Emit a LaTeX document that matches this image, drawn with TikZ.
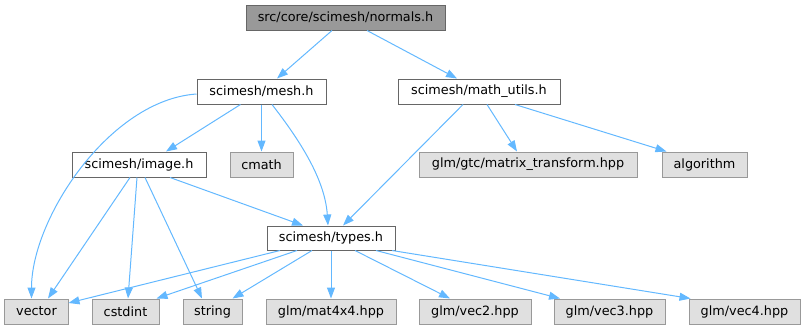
\documentclass[tikz,border=0pt]{standalone}
\usepackage{fontspec}
\setmainfont{DejaVu Sans}
\usetikzlibrary{arrows.meta}
\definecolor{edgec}{HTML}{63B8FF}
\definecolor{rootfill}{HTML}{999999}
\definecolor{rootdraw}{HTML}{666666}
\definecolor{extfill}{HTML}{E0E0E0}
\definecolor{extdraw}{HTML}{999999}
\definecolor{nodedraw}{HTML}{666666}
\tikzset{
  base/.style={rectangle, inner sep=0pt, minimum height=25bp, line width=1bp, font=\fontsize{12.8bp}{15bp}\selectfont, text=black},
  rootbox/.style={base, fill=rootfill, draw=rootdraw},
  filebox/.style={base, fill=white, draw=nodedraw},
  extbox/.style={base, fill=extfill, draw=extdraw},
  dep/.style={draw=edgec, line width=1bp, -{Triangle[length=11bp,width=8bp,fill=edgec]}}
}
\begin{document}
\begin{tikzpicture}[x=1bp,y=-1bp]
\useasboundingbox (0,0) rectangle (805,329);
\node[rootbox, minimum width=199bp] (normals) at (345.5,17.5) {src/core/scimesh/normals.h};
\node[filebox, minimum width=129bp] (mesh) at (261.5,91.5) {scimesh/mesh.h};
\node[filebox, minimum width=162bp] (math) at (479,91.5) {scimesh/math\_utils.h};
\node[filebox, minimum width=134bp] (image) at (139,164.5) {scimesh/image.h};
\node[extbox, minimum width=63bp] (cmath) at (261.5,164.5) {cmath};
\node[extbox, minimum width=218bp] (matrix) at (528,164.5) {glm/gtc/matrix\_transform.hpp};
\node[extbox, minimum width=85bp] (algorithm) at (704.5,164.5) {algorithm};
\node[filebox, minimum width=128bp, minimum height=24bp] (types) at (331,238) {scimesh/types.h};
\node[extbox, minimum width=63bp] (vector) at (36.5,311.5) {vector};
\node[extbox, minimum width=67bp] (cstdint) at (125.5,311.5) {cstdint};
\node[extbox, minimum width=59bp] (string) at (212.5,311.5) {string};
\node[extbox, minimum width=130bp] (mat) at (331,311.5) {glm/mat4x4.hpp};
\node[extbox, minimum width=112bp] (vec2) at (475,311.5) {glm/vec2.hpp};
\node[extbox, minimum width=111bp] (vec3) at (609.5,311.5) {glm/vec3.hpp};
\node[extbox, minimum width=111bp] (vec4) at (744.5,311.5) {glm/vec4.hpp};

\draw[dep] ([xshift=-13.5bp]normals.south) -- ([xshift=15.5bp]mesh.north);
\draw[dep] ([xshift=21.5bp]normals.south) -- ([xshift=-22bp]math.north);

\draw[dep] ([yshift=-2.5bp]mesh.west) .. controls +(-87,6) and +(0,-80) .. ([xshift=-5bp]vector.north);
\draw[dep] ([xshift=-21bp]mesh.south) -- ([xshift=27bp]image.north);
\draw[dep] (mesh.south) -- (cmath.north);
\draw[dep] ([xshift=10.5bp]mesh.south) .. controls +(28,36) and +(-3,-46) .. ([xshift=-3bp]types.north);

\draw[dep] ([xshift=-16bp]math.south) -- ([xshift=12bp]types.north);
\draw[dep] ([xshift=8bp]math.south) -- ([xshift=-11bp]matrix.north);
\draw[dep] ([xshift=36bp]math.south) -- ([xshift=-38bp]algorithm.north);

\draw[dep] ([xshift=-9bp]image.south) -- ([xshift=11.5bp]vector.north);
\draw[dep] ([xshift=-2bp]image.south) -- ([xshift=2.5bp]cstdint.north);
\draw[dep] ([xshift=6bp]image.south) -- ([xshift=-10.5bp]string.north);
\draw[dep] ([xshift=31bp]image.south) -- ([xshift=-28bp]types.north);

\draw[dep] ([xshift=-51bp]types.south) -- ([yshift=8.5bp]vector.east);
\draw[dep] ([xshift=-34bp]types.south) -- ([xshift=31bp]cstdint.north);
\draw[dep] ([xshift=-19bp]types.south) -- ([xshift=20bp]string.north);
\draw[dep] (types.south) -- (mat.north);
\draw[dep] ([xshift=24bp]types.south) -- ([xshift=-25bp]vec2.north);
\draw[dep] ([xshift=45bp]types.south) -- ([xshift=-49.5bp]vec3.north);
\draw[dep] ([xshift=61bp]types.south) -- ([xshift=-54bp]vec4.north);
\end{tikzpicture}
\end{document}
